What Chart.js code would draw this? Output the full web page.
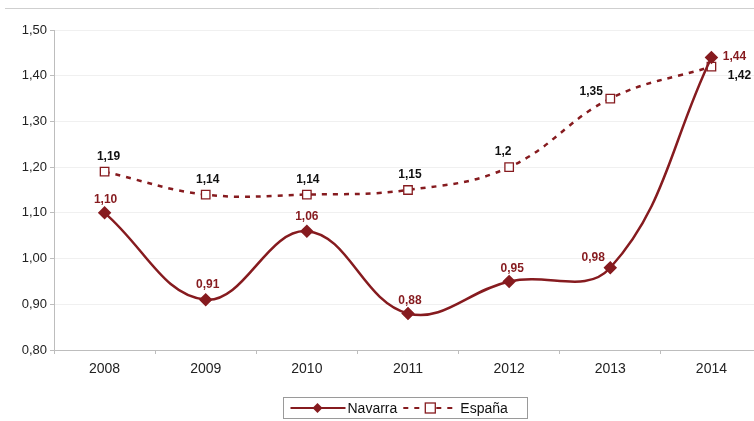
<!DOCTYPE html>
<html>
<head>
<meta charset="utf-8">
<script src="https://cdn.jsdelivr.net/npm/chart.js@4/dist/chart.umd.min.js"></script>
<style>
  html, body { margin: 0; padding: 0; background: #fff; overflow: hidden; }
  #wrap { width: 754px; height: 421px; position: relative; }
</style>
</head>
<body>
<div id="wrap"><canvas id="chart" width="754" height="421"></canvas></div>
<script>
// data
let years = ['2008', '2009', '2010', '2011', '2012', '2013', '2014']
let navarra = [1.10, 0.91, 1.06, 0.88, 0.95, 0.98, 1.44]
let espana = [1.19, 1.14, 1.14, 1.15, 1.2, 1.35, 1.42]
let yTicks = [0.8, 0.9, 1.0, 1.1, 1.2, 1.3, 1.4, 1.5]

let red = '#861b1f'
let fontFamily = '"Liberation Sans", Arial, sans-serif'

// value labels: Navarra always two decimals, España as written
function fmtNavarra(v) { return v.toFixed(2).replace('.', ',') }
function fmtEspana(v) { return String(v).replace('.', ',') }

// label offsets from each point (dx, dy), per dataset
let labelOffsets = [
    [[1, -13], [2, -15], [0, -14], [2, -13], [3, -13], [-17, -10], [23, -1]],
    [[4, -15], [2, -15], [1, -15], [2, -15], [-6, -15], [-19, -7], [28, 9]]
]

// in the original the plot runs a few pixels past the right edge of the picture
let plotOverflow = {
    id: 'plotOverflow',
    afterLayout(chart) {
        let xs = chart.scales.x
        xs.right = chart.width + 8
        xs.width = xs.right - xs.left
        xs.configure()
        chart.chartArea.right = xs.right
        chart.chartArea.width = xs.width
    }
}

let valueLabels = {
    id: 'valueLabels',
    afterDatasetsDraw(chart) {
        let ctx = chart.ctx
        ctx.save()
        ctx.font = 'bold 12px ' + fontFamily
        ctx.textAlign = 'center'
        ctx.textBaseline = 'middle'
        chart.data.datasets.forEach(function(ds, i) {
            let meta = chart.getDatasetMeta(i)
            ctx.fillStyle = i == 0 ? red : '#111'
            meta.data.forEach(function(pt, j) {
                let off = labelOffsets[i][j]
                let txt = i == 0 ? fmtNavarra(ds.data[j]) : fmtEspana(ds.data[j])
                ctx.fillText(txt, pt.x + off[0], pt.y + off[1])
            })
        })
        ctx.restore()
    }
}

// top rule and boxed legend at the bottom
let frameAndLegend = {
    id: 'frameAndLegend',
    afterDraw(chart) {
        let ctx = chart.ctx
        ctx.save()
        ctx.strokeStyle = '#cfcfcf'
        ctx.lineWidth = 1
        ctx.beginPath()
        ctx.moveTo(5, 8.5)
        ctx.lineTo(chart.width, 8.5)
        ctx.stroke()

        // legend box
        let w = 244, h = 21
        let x0 = 283.5, y0 = 397.5
        ctx.strokeStyle = '#9a9a9a'
        ctx.strokeRect(x0, y0, w, h)

        ctx.font = '14px ' + fontFamily
        ctx.textBaseline = 'middle'
        let my = y0 + h / 2
        let x = x0 + 7
        chart.data.datasets.forEach(function(ds, i) {
            ctx.strokeStyle = ds.borderColor
            ctx.lineWidth = 2
            ctx.setLineDash(ds.borderDash || [])
            ctx.beginPath()
            ctx.moveTo(x, my)
            ctx.lineTo(x + 55, my)
            ctx.stroke()
            ctx.setLineDash([])
            let px = x + 27
            if (ds.pointStyle == 'rectRot') {
                ctx.fillStyle = ds.pointBackgroundColor
                ctx.beginPath()
                ctx.moveTo(px, my - 5)
                ctx.lineTo(px + 5, my)
                ctx.lineTo(px, my + 5)
                ctx.lineTo(px - 5, my)
                ctx.closePath()
                ctx.fill()
            } else {
                ctx.fillStyle = '#fff'
                ctx.fillRect(px - 5, my - 5, 10, 10)
                ctx.lineWidth = 1.3
                ctx.strokeRect(px - 5, my - 5, 10, 10)
            }
            ctx.fillStyle = '#111'
            ctx.textAlign = 'left'
            ctx.fillText(ds.label, x + 57, my + 1)
            x += 57 + ctx.measureText(ds.label).width + 6
        })
        ctx.restore()
    }
}

let chart = new Chart(document.getElementById('chart'), {
    type: 'line',
    data: {
        labels: years,
        datasets: [
            {
                label: 'Navarra',
                data: navarra,
                borderColor: red,
                borderWidth: 2.5,
                tension: 0.4,
                pointStyle: 'rectRot',
                pointRadius: 5,
                pointBackgroundColor: red,
                pointBorderColor: red
            },
            {
                label: 'España',
                data: espana,
                borderColor: red,
                borderWidth: 2.5,
                borderDash: [5, 6],
                tension: 0.4,
                pointStyle: 'rect',
                pointRadius: 6,
                pointBorderWidth: 1.3,
                pointBackgroundColor: '#fff',
                pointBorderColor: red
            }
        ]
    },
    options: {
        responsive: false,
        animation: false,
        devicePixelRatio: 1,
        layout: { padding: { top: 30, left: 0, right: 0, bottom: 0 } },
        plugins: { legend: { display: false }, tooltip: { enabled: false } },
        scales: {
            x: {
                offset: true,
                grid: { display: true, offset: true, drawOnChartArea: false, color: '#bdbdbd', tickLength: 4 },
                border: { color: '#bdbdbd' },
                ticks: { color: '#222', padding: 7, maxRotation: 0, font: { family: fontFamily, size: 14 } },
                afterFit(s) { s.height = 71 }
            },
            y: {
                min: yTicks[0],
                max: yTicks[yTicks.length - 1],
                afterBuildTicks(s) { s.ticks = yTicks.map(v => ({ value: v })) },
                grid: { color: '#f0f0f0', tickLength: 4, tickColor: '#bdbdbd' },
                border: { color: '#bdbdbd' },
                ticks: {
                    color: '#222',
                    padding: 3,
                    font: { family: fontFamily, size: 13 },
                    callback: v => v.toFixed(2).replace('.', ',')
                },
                afterFit(s) { s.width = 54 }
            }
        }
    },
    plugins: [plotOverflow, valueLabels, frameAndLegend]
})
</script>
</body>
</html>
